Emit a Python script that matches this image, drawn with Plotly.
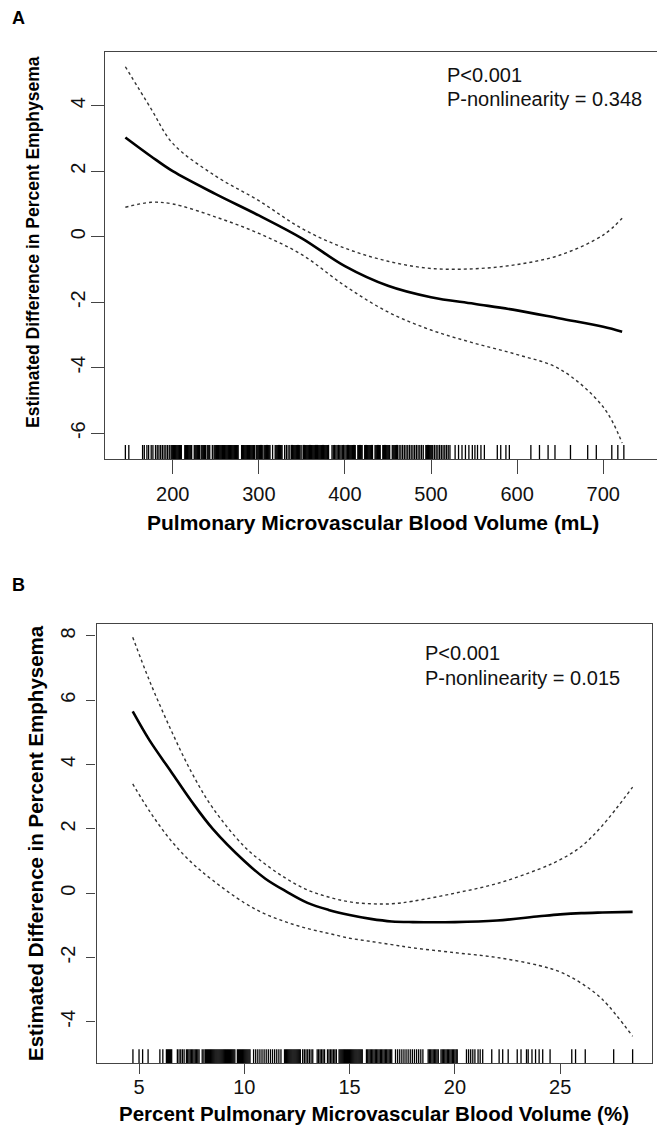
import plotly.graph_objects as go

# ---------------- Panel A data ----------------
a_x = [145, 175, 200, 250, 300, 350, 400, 450, 500, 550, 600, 650, 700, 722]
a_fit = [3.03, 2.45, 2.0, 1.3, 0.65, -0.05, -0.9, -1.5, -1.85, -2.05, -2.25, -2.5, -2.75, -2.9]
a_upper = [5.19, 3.9, 2.85, 1.85, 1.1, 0.25, -0.35, -0.75, -0.97, -0.98, -0.85, -0.56, 0.05, 0.56]
a_lower = [0.9, 1.05, 1.0, 0.6, 0.1, -0.55, -1.5, -2.3, -2.85, -3.25, -3.6, -4.05, -5.2, -6.3]
a_rug = [145, 149, 165, 167, 170, 172, 175, 177, 180, 182, 184, 186, 188, 190, 192, 194, 196,
         198, 199, 200, 201, 202, 203, 204, 205, 206, 207, 208, 209, 210,
         214, 215, 216, 217, 218, 219, 220, 221, 222,
         225, 226, 227, 228, 229, 230, 231,
         233, 234, 235, 236, 237, 238,
         240, 241, 242, 243, 246, 248,
         249, 250, 251, 252, 253, 254, 255, 256, 257, 258, 259, 260, 261, 262, 263, 264, 265,
         266, 267, 268, 269, 270, 271, 272, 273, 274, 275, 276,
         280, 281, 282, 283, 284, 285, 286, 287, 288, 289, 290, 291, 292, 293, 294, 295, 297,
         298, 299, 300, 301, 302, 303, 304, 306, 307, 308, 309, 310, 311, 312, 313,
         316, 319, 320, 321, 322, 323, 324, 325, 326, 327, 330, 332, 334, 336,
         338, 339, 340, 341, 342, 343, 344, 345, 346, 347, 348, 350,
         352, 353, 354, 355, 356, 357, 358, 359, 360, 361, 362, 363, 364, 365, 366, 367, 368,
         369, 370, 371, 372, 373, 374, 375, 376, 377, 378, 379, 380, 381,
         385, 386.5, 388, 389.5, 391, 392.5, 394, 395.5, 397, 398.5, 400, 401.5, 403,
         404, 405, 406, 407, 408, 409, 410, 411, 412, 415, 416, 417, 418, 419, 420,
         423, 424, 425, 426, 427, 428, 429, 430, 431, 432, 435, 436, 437, 438, 439, 440, 441,
         444, 445, 446, 447, 448, 449, 450, 451, 452, 455, 456, 457, 458, 459, 460, 461,
         463, 465, 467, 469, 471, 473, 475, 477, 479, 481, 483, 485, 487, 489, 491,
         494, 495, 496, 497, 498, 499, 500, 501, 502,
         504, 506, 508, 510, 512, 514, 516, 518, 520, 522,
         528, 532, 536, 540, 544, 548, 551, 554, 558, 562, 577, 581, 587, 591, 616, 626, 636,
         644, 662, 682, 692, 710, 717, 724]
a_xticks = [200, 300, 400, 500, 600, 700]
a_yticks = [-6, -4, -2, 0, 2, 4]
a_yticklabels = ["-6", "-4", "-2", "0", "2", "4"]
a_xrange = [121.8, 762.5]
a_yrange = [-6.79, 5.65]

# ---------------- Panel B data ----------------
b_x = [4.7, 5.5, 6.5, 7.5, 8.5, 10, 11, 12, 13, 14, 15, 16, 17, 18, 20, 22, 24, 25, 26, 27, 28.44]
b_fit = [5.65, 4.75, 3.8, 2.85, 2.0, 1.0, 0.45, 0.05, -0.3, -0.52, -0.68, -0.8, -0.88, -0.9,
         -0.9, -0.85, -0.72, -0.66, -0.62, -0.6, -0.58]
b_upper = [7.96, 6.6, 5.1, 3.75, 2.65, 1.45, 0.9, 0.45, 0.1, -0.12, -0.27, -0.33, -0.33, -0.25,
           0.0, 0.3, 0.75, 1.04, 1.45, 2.1, 3.3]
b_lower = [3.4, 2.55, 1.65, 0.95, 0.4, -0.3, -0.65, -0.9, -1.1, -1.25, -1.4, -1.5, -1.6, -1.7,
           -1.85, -2.0, -2.25, -2.45, -2.8, -3.3, -4.45]
b_rug = [4.71, 5.0, 5.17, 5.43, 5.99, 6.13,
         6.3, 6.35, 6.4, 6.45, 6.5, 6.55, 6.82, 6.9, 6.98, 7.06, 7.14,
         7.25, 7.31, 7.37, 7.43, 7.49, 7.55, 7.61, 7.67, 7.73, 7.79, 7.85, 8.0, 8.08, 8.15,
         8.2, 8.25, 8.3, 8.35, 8.4, 8.45, 8.5, 8.55, 8.6, 8.65, 8.7, 8.75, 8.8, 8.85, 8.9,
         8.95, 9.0, 9.05, 9.1, 9.15, 9.2, 9.25, 9.3, 9.35, 9.4, 9.45, 9.5, 9.55,
         9.67, 9.72, 9.77, 9.82, 9.87, 9.92, 9.97, 10.02, 10.07, 10.12, 10.17, 10.22, 10.27,
         10.44, 10.54, 10.64, 10.74, 10.84, 10.94, 11.04, 11.14, 11.24, 11.34, 11.44, 11.54,
         11.64, 11.74, 11.91, 11.96, 12.01, 12.06, 12.11, 12.16, 12.21, 12.26, 12.31, 12.36,
         12.41, 12.46, 12.51, 12.56, 12.61, 12.66, 12.77, 12.85, 12.93, 13.01, 13.09, 13.17,
         13.25, 13.46, 13.53, 13.6, 13.67, 13.74, 13.81, 13.95, 14.02, 14.09, 14.16, 14.23,
         14.3, 14.37, 14.5, 14.55, 14.6, 14.65, 14.7, 14.75, 14.8, 14.85, 14.9, 14.95, 15.0,
         15.05, 15.1, 15.15, 15.2, 15.25, 15.3, 15.35, 15.4, 15.45, 15.5, 15.55, 15.6,
         15.8, 15.86, 15.92, 15.98, 16.04, 16.1, 16.16, 16.22, 16.28, 16.34, 16.4, 16.46,
         16.52, 16.58, 16.64, 16.7, 16.76, 16.82, 16.88, 16.94, 17.0,
         17.18, 17.28, 17.38, 17.48, 17.58, 17.68, 17.78, 17.88, 17.98, 18.08, 18.18, 18.28,
         18.38, 18.48, 18.73, 18.79, 18.85, 18.91, 18.97, 19.03, 19.09, 19.15, 19.21,
         19.34, 19.4, 19.46, 19.52, 19.58, 19.64, 19.7, 19.76, 19.82, 19.88, 19.94, 20.0,
         20.06, 20.11, 20.55, 20.65, 20.75, 20.85, 20.95, 21.1, 21.2, 21.32,
         21.75, 22.1, 22.27, 22.53, 22.96, 23.14, 23.4, 23.48, 23.66, 23.83, 24.0, 24.17,
         24.52, 25.55, 25.73, 26.19, 27.54, 28.44]
b_xticks = [5, 10, 15, 20, 25]
b_yticks = [-4, -2, 0, 2, 4, 6, 8]
b_yticklabels = ["-4", "-2", "0", "2", "4", "6", "8"]
b_xrange = [2.98, 29.36]
b_yrange = [-5.29, 8.37]

W, H = 657, 1127
FONT = "Liberation Sans, Arial, Helvetica, sans-serif"
AXC = "#444444"


def px(x):
    return x / W


def py(y):
    return 1 - y / H


fig = go.Figure()


def add_panel(xs, fit, up, lo, rug, yr, xa, ya, rug_h, rug_w):
    for series, dash, width, color in ((up, "dot", 1.4, "#333333"),
                                       (lo, "dot", 1.4, "#333333"),
                                       (fit, "solid", 2.6, "#000000")):
        fig.add_trace(go.Scatter(x=xs, y=series, mode="lines", xaxis=xa, yaxis=ya,
                                 line=dict(color=color, width=width, dash=dash, shape="spline"),
                                 showlegend=False, hoverinfo="skip"))
    rx, ry = [], []
    for v in rug:
        rx += [v, v, None]
        ry += [yr[0], yr[0] + rug_h, None]
    fig.add_trace(go.Scatter(x=rx, y=ry, mode="lines", xaxis=xa, yaxis=ya,
                             line=dict(color="#000000", width=rug_w, simplify=False),
                             showlegend=False, hoverinfo="skip"))


add_panel(a_x, a_fit, a_upper, a_lower, a_rug, a_yrange, "x", "y", 0.43, 1.3)
add_panel(b_x, b_fit, b_upper, b_lower, b_rug, b_yrange, "x2", "y2", 0.44, 1.3)


def axis_style(ticklen):
    return dict(showgrid=False, zeroline=False, showline=True, linecolor=AXC, linewidth=1.3,
                ticks="outside", ticklen=ticklen, tickwidth=1.3, tickcolor=AXC,
                tickfont=dict(family=FONT, size=20, color="#111111"))


fig.update_layout(
    width=W, height=H, margin=dict(l=0, r=0, t=0, b=0),
    paper_bgcolor="white", plot_bgcolor="white",
    xaxis=dict(domain=[px(105.4), 1.0], range=a_xrange, tickvals=a_xticks, mirror=True,
               anchor="y", ticklabelstandoff=3, **axis_style(13.5)),
    yaxis=dict(domain=[py(459), py(51.7)], range=a_yrange, tickvals=a_yticks,
               ticktext=a_yticklabels, mirror=False,
               anchor="x", tickangle=-90, ticklabelstandoff=-2, **axis_style(13.5)),
    xaxis2=dict(domain=[px(96.5), px(652)], range=b_xrange, tickvals=b_xticks, mirror=True,
                anchor="y2", ticklabelstandoff=-4, **axis_style(9.5)),
    yaxis2=dict(domain=[py(1063.3), py(624)], range=b_yrange, tickvals=b_yticks,
                ticktext=b_yticklabels, mirror=True,
                anchor="x2", tickangle=-90, ticklabelstandoff=3, **axis_style(9.5)),
)

ann = []
# panel letters
ann.append(dict(x=px(18), y=py(18), text="<b>A</b>", font=dict(family=FONT, size=18, color="black")))
ann.append(dict(x=px(18), y=py(585), text="<b>B</b>", font=dict(family=FONT, size=18, color="black")))
# axis titles
ann.append(dict(x=px(373), y=py(522), text="<b>Pulmonary Microvascular Blood Volume (mL)</b>",
                font=dict(family=FONT, size=21, color="black")))
ann.append(dict(x=px(33), y=py(242), text="<b>Estimated Difference in Percent Emphysema</b>",
                textangle=-90, font=dict(family=FONT, size=17.5, color="black")))
ann.append(dict(x=px(374), y=py(1113), text="<b>Percent Pulmonary Microvascular Blood Volume (%)</b>",
                font=dict(family=FONT, size=20.5, color="black")))
ann.append(dict(x=px(35), y=py(843), text="<b>Estimated Difference in Percent Emphysema</b>",
                textangle=-90, font=dict(family=FONT, size=20.5, color="black")))
# p-values
for txt, x0, y0 in (("P<0.001", 445, 75), ("P-nonlinearity = 0.348", 445, 99),
                    ("P<0.001", 423, 653), ("P-nonlinearity = 0.015", 423, 678)):
    ann.append(dict(x=px(x0), y=py(y0), text=txt, xanchor="left",
                    font=dict(family=FONT, size=20, color="#111111")))

for a in ann:
    a.setdefault("xanchor", "center")
    a.setdefault("yanchor", "middle")
    a.update(xref="paper", yref="paper", showarrow=False)
fig.update_layout(annotations=ann)

fig.write_html("out.html", config={"displayModeBar": False},
               post_script="document.body.style.margin='0';document.body.style.overflow='hidden';")
